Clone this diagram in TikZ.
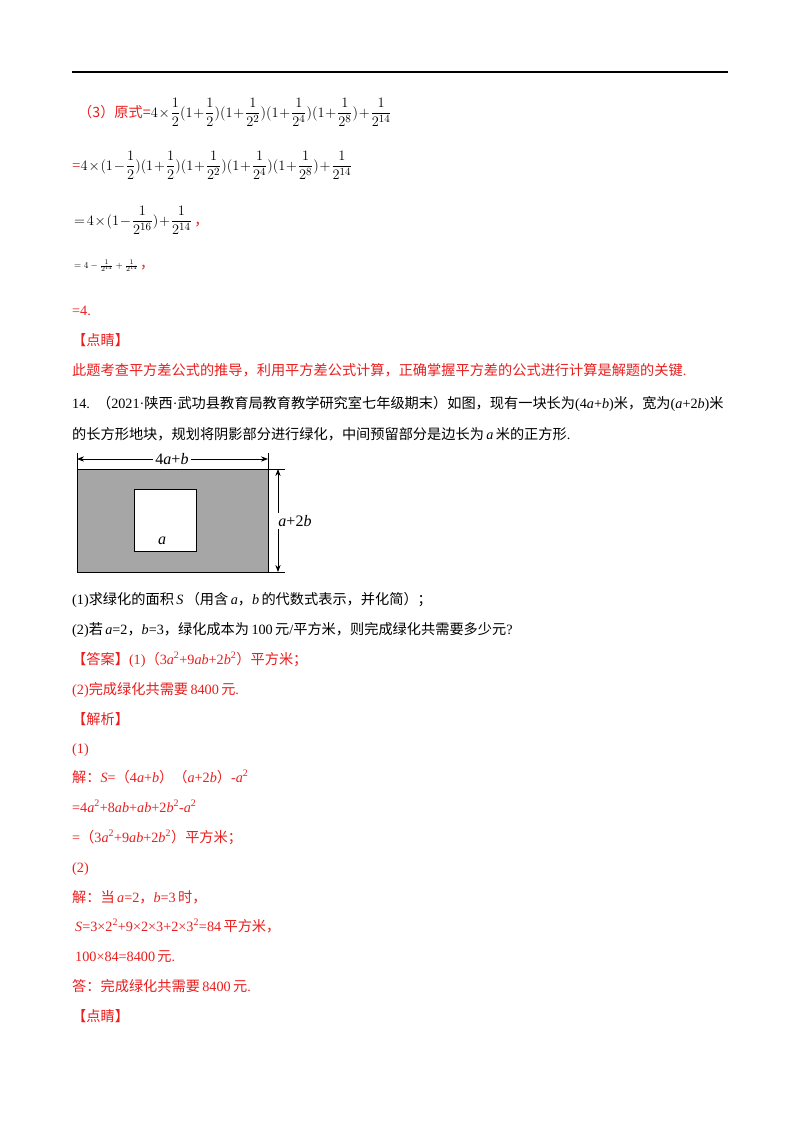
\documentclass[tikz,border=0pt]{standalone}
\usetikzlibrary{arrows.meta}
\usepackage{amsmath}
\usepackage{fontspec}
\setmainfont{Liberation Serif}
\newfontfamily\cjk{Noto Sans CJK SC}
\newcommand{\zh}[1]{{\cjk #1}}
\newcommand{\fs}{\fontsize{14.2}{17}\selectfont}
\newcommand{\mfs}{\fontsize{15}{18}\selectfont\medmuskip=1mu\thickmuskip=2mu}
\definecolor{rd}{RGB}{235,30,30}
\definecolor{figgray}{RGB}{166,166,166}
\begin{document}
\begin{tikzpicture}[x=1pt,y=-1pt,
  t/.style={anchor=base west,inner sep=0pt,font=\fs},
  m/.style={t,font=\mfs},
  r/.style={t,text=rd},
  lab/.style={inner sep=2pt,font=\fontsize{16}{18}\selectfont},
  dim/.style={thick,{Stealth[length=7pt]}-{Stealth[length=7pt]}}]
\useasboundingbox[fill=white] (0,0) rectangle (800,1132);
\draw[line width=1.6pt] (72,72) -- (728,72);
% part (3)
\node[m] (l1) at (78,117) {\textcolor{rd}{\fs\zh{（3）原式=}}$\displaystyle 4\times\frac12(1+\frac12)(1+\frac1{2^2})(1+\frac1{2^4})(1+\frac1{2^8})+\frac1{2^{14}}$};
\node[m] (l2) at (72,170) {\textcolor{rd}{=}$\displaystyle 4\times(1-\frac12)(1+\frac12)(1+\frac1{2^2})(1+\frac1{2^4})(1+\frac1{2^8})+\frac1{2^{14}}$};
\node[m] (l3) at (74,225) {$\displaystyle =4\times(1-\frac1{2^{16}})+\frac1{2^{14}}$\,\textcolor{rd}{\fs\zh{，}}};
\node[t,font=\fontsize{9.5}{11}\selectfont] (l4) at (74,268) {$=4-\frac1{2^{14}}+\frac1{2^{14}}$\,\textcolor{rd}{\fs\zh{，}}};
\node[r] (l5) at (72,315) {=4.};
\node[r] (d1) at (72,345) {\zh{【点睛】}};
\node[r] (d2) at (72,375) {\zh{此题考查平方差公式的推导，利用平方差公式计算，正确掌握平方差的公式进行计算是解题的关键}.};
\node[t] (q1) at (72,408) {14.\ \ \zh{（}2021·\zh{陕西}·\zh{武功县教育局教育教学研究室七年级期末）如图，现有一块长为}(4\textit{a}+\textit{b})\zh{米，宽为}(\textit{a}+2\textit{b})\zh{米}};
\node[t] (q2) at (72,439) {\zh{的长方形地块，规划将阴影部分进行绿化，中间预留部分是边长为}\,\textit{a}\,\zh{米的正方形}.};
% figure
\coordinate (A) at (77,469); \coordinate (B) at (268,572);
\fill[figgray] (A) rectangle (B);
\draw[semithick] (77,453) -- (77,572) -- (268,572);
\draw[semithick] (77,469) -- (285,469);
\draw[semithick] (268,453) -- (268,572) -- (285,572);
\fill[white] (134,489) rectangle (196,551);
\draw (134,489) rectangle (196,551);
\node[inner sep=0pt,font=\fontsize{16}{18}\selectfont\itshape] (sa) at (162,541) {a};
\coordinate (wl) at (77,459); \coordinate (wr) at (268,459);
\draw[dim] (wl) -- (wr);
\coordinate (ht) at (278,469); \coordinate (hb) at (278,572);
\draw[dim] (ht) -- (hb);
\node[lab,fill=white] (w) at (172,459) {4\textit{a}+\textit{b}};
\node[lab,fill=white] (h) at (295,521) {\textit{a}+2\textit{b}};
% questions
\node[t] (p1) at (72,604) {(1)\zh{求绿化的面积}\,\textit{S}\,\zh{（用含}\,\textit{a}\zh{，}\textit{b}\,\zh{的代数式表示，并化简）；}};
\node[t] (p2) at (72,634) {(2)\zh{若}\,\textit{a}=2\zh{，}\textit{b}=3\zh{，绿化成本为}\,100\,\zh{元}/\zh{平方米，则完成绿化共需要多少元}?};
\node[r] (a1) at (72,664) {\zh{【答案】}(1)\zh{（}3\textit{a}\textsuperscript{2}+9\textit{ab}+2\textit{b}\textsuperscript{2}\zh{）平方米；}};
\node[r] (a2) at (72,694) {(2)\zh{完成绿化共需要}\,8400\,\zh{元}.};
\node[r] (j0) at (72,724) {\zh{【解析】}};
\node[r] (j1) at (72,753) {(1)};
\node[r] (j2) at (72,782) {\zh{解：}\textit{S}=\zh{（}4\textit{a}+\textit{b}\zh{）（}\textit{a}+2\textit{b}\zh{）}-\textit{a}\textsuperscript{2}};
\node[r] (j3) at (72,812) {=4\textit{a}\textsuperscript{2}+8\textit{ab}+\textit{ab}+2\textit{b}\textsuperscript{2}-\textit{a}\textsuperscript{2}};
\node[r] (j4) at (72,842) {=\zh{（}3\textit{a}\textsuperscript{2}+9\textit{ab}+2\textit{b}\textsuperscript{2}\zh{）平方米；}};
\node[r] (j5) at (72,872) {(2)};
\node[r] (j6) at (72,902) {\zh{解：当}\,\textit{a}=2\zh{，}\textit{b}=3\,\zh{时，}};
\node[r] (j7) at (75,931) {\textit{S}=3×2\textsuperscript{2}+9×2×3+2×3\textsuperscript{2}=84\,\zh{平方米，}};
\node[r] (j8) at (75,961) {100×84=8400\,\zh{元}.};
\node[r] (j9) at (72,991) {\zh{答：完成绿化共需要}\,8400\,\zh{元}.};
\node[r] (j10) at (72,1021) {\zh{【点睛】}};
\end{tikzpicture}
\end{document}
